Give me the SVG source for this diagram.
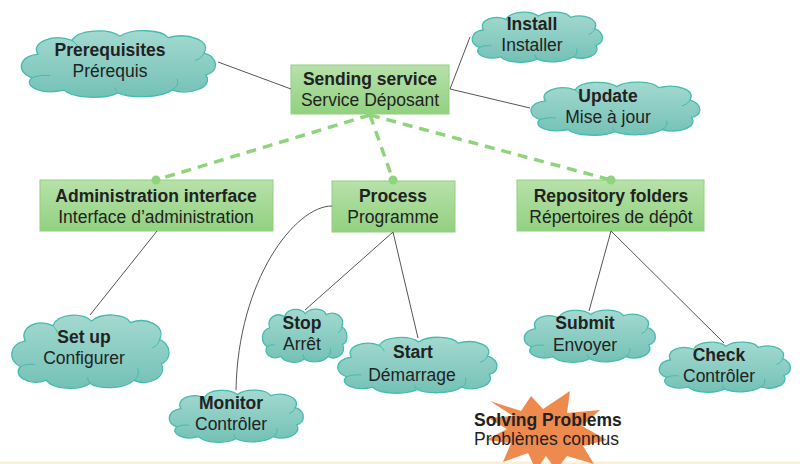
<svg xmlns="http://www.w3.org/2000/svg" xmlns:xlink="http://www.w3.org/1999/xlink" width="800" height="464" viewBox="0 0 800 464">
<style>
text{font-family:"Liberation Sans",Arial,sans-serif;font-size:17.5px;fill:#222;text-anchor:middle}
.b{font-weight:bold}
.box{fill:url(#gBox);stroke:#8fd27e;stroke-width:1}
.thin{fill:none;stroke:#555;stroke-width:1}
.dash{fill:none;stroke:#8fd47c;stroke-width:3.5;stroke-dasharray:10 7}
.dot{fill:#8fd47c}
</style>
<defs>
<linearGradient id="gBox" x1="0" y1="0" x2="0" y2="1">
<stop offset="0" stop-color="#b7e1aa"/><stop offset="1" stop-color="#92d180"/>
</linearGradient>
<linearGradient id="gCloud" x1="0" y1="0" x2="0" y2="1">
<stop offset="0" stop-color="#a3d9d0"/><stop offset="1" stop-color="#74c1b6"/>
</linearGradient>
<symbol id="cloud" viewBox="0 0 200 100" preserveAspectRatio="none" overflow="visible">
<path d="M20,38 C12,20 36,8 54,18 C60,2 90,0 102,12 C114,0 144,2 150,14 C170,6 194,18 186,36 C202,44 200,64 188,68 C196,86 172,98 154,90 C142,102 112,102 100,94 C86,104 54,102 46,90 C24,98 4,84 14,72 C-2,64 0,42 20,38 Z" fill="url(#gCloud)" stroke="#43bcae" stroke-width="1.3" vector-effect="non-scaling-stroke"/>
<path d="M14,72 C19,69 26,68 32,69 M154,90 C159,86 161,80 159,74 M100,94 C98,91 97,88 97,86 M186,36 C185,41 182,45 177,47 M54,18 C57,21 59,24 60,28" fill="none" stroke="#43bcae" stroke-width="1" vector-effect="non-scaling-stroke"/>
</symbol>
</defs>
<rect x="0" y="0" width="800" height="464" fill="#fff"/>
<rect x="0" y="461.5" width="800" height="2.5" fill="#fcf0d2"/>

<g id="n-sending"><rect class="box" x="291" y="65" width="158" height="49"/><text class="b" x="370" y="85">Sending service</text><text x="370" y="106">Service Déposant</text></g>
<g id="n-admin"><rect class="box" x="40" y="180" width="233" height="51"/><text class="b" x="156" y="202">Administration interface</text><text x="156" y="223">Interface d’administration</text></g>
<g id="n-process"><rect class="box" x="332" y="181" width="123" height="51"/><text class="b" x="393" y="202">Process</text><text x="393" y="223">Programme</text></g>
<g id="n-repo"><rect class="box" x="517" y="180" width="187" height="51"/><text class="b" x="611" y="202">Repository folders</text><text x="611" y="223">Répertoires de dépôt</text></g>

<g id="n-prereq"><use xlink:href="#cloud" x="18" y="28" width="200" height="69"/><text class="b" x="110" y="56">Prerequisites</text><text x="110" y="77">Prérequis</text></g>
<g id="n-install"><use xlink:href="#cloud" x="470" y="10" width="134" height="52"/><text class="b" x="532" y="30">Install</text><text x="532" y="51">Installer</text></g>
<g id="n-update"><use xlink:href="#cloud" x="528" y="80" width="174" height="55"/><text class="b" x="608" y="102">Update</text><text x="608" y="123">Mise à jour</text></g>
<g id="n-setup"><use xlink:href="#cloud" x="9" y="312" width="162" height="76"/><text class="b" x="84" y="343">Set up</text><text x="84" y="364">Configurer</text></g>
<g id="n-monitor"><use xlink:href="#cloud" x="167" y="388" width="138" height="54"/><text class="b" x="231" y="409">Monitor</text><text x="231" y="430">Contrôler</text></g>
<g id="n-stop"><use xlink:href="#cloud" x="261" y="307" width="87" height="55"/><text class="b" x="302" y="329">Stop</text><text x="302" y="350">Arrêt</text></g>
<g id="n-start"><use xlink:href="#cloud" x="335" y="335" width="164" height="58"/><text class="b" x="413" y="358">Start</text><text x="412" y="381">Démarrage</text></g>
<g id="n-submit"><use xlink:href="#cloud" x="522" y="308" width="135" height="54"/><text class="b" x="585" y="329">Submit</text><text x="585" y="351">Envoyer</text></g>
<g id="n-check"><use xlink:href="#cloud" x="657" y="340" width="135" height="52"/><text class="b" x="719" y="361">Check</text><text x="719" y="382">Contrôler</text></g>

<g id="n-solving">
<polygon points="490,401 521,411 531,396 543,409 570,391 567,413 600,410 582,426 607,440 583,446 594,464 567,456 556,470 546,456 536,470 528,453 503,462 511,443 486,440 507,429 488,418 513,416" fill="#ef8a4e"/>
<text class="b" x="474" y="426" style="text-anchor:start">Solving Problems</text>
<text x="474" y="445" style="text-anchor:start">Problèmes connus</text>
</g>

<g id="connectors">
<line class="thin" x1="218" y1="62" x2="291" y2="89"/>
<line class="thin" x1="450" y1="89" x2="470" y2="37"/>
<line class="thin" x1="450" y1="89" x2="530" y2="108"/>
<line class="thin" x1="157" y1="231" x2="90" y2="315"/>
<path class="thin" d="M332,206 C295,206 238,280 236,390"/>
<line class="thin" x1="393" y1="232" x2="305" y2="310"/>
<line class="thin" x1="393" y1="232" x2="418" y2="338"/>
<line class="thin" x1="611" y1="231" x2="589" y2="311"/>
<line class="thin" x1="611" y1="231" x2="724" y2="343"/>
<line class="dash" x1="370" y1="115" x2="156" y2="180"/>
<line class="dash" x1="370" y1="115" x2="393" y2="180"/>
<line class="dash" x1="370" y1="115" x2="611" y2="180"/>
<circle class="dot" cx="156" cy="180" r="4.5"/>
<circle class="dot" cx="393" cy="180" r="4.5"/>
<circle class="dot" cx="611" cy="180" r="4.5"/>
</g>
</svg>
